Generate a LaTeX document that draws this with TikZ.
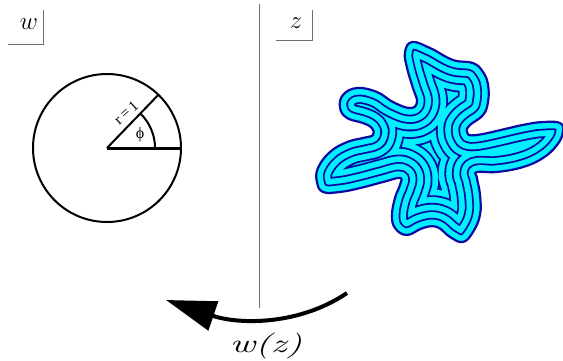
\documentclass[tikz,border=0pt]{standalone}
\usepackage{fontspec}
\newfontfamily\timesf{Liberation Serif}
\usetikzlibrary{arrows.meta,calc}
\definecolor{blobfill}{RGB}{0,240,255}
\definecolor{blobline}{RGB}{10,10,160}
\definecolor{rulegray}{RGB}{110,110,110}
\newcommand\blobpts{99.2/112.4, 90/105, 76.1/95.8, 64.5/99.7, 56.8/96.8, 49.5/89.4, 41.3/77.2, 35.6/65.2, 35/48.8, 29.6/42.5, 21/50.3, 16.8/97.1, 15.3/117.2, 13/133.4, 9/134.6, 3.6/127.3, -2.5/113.1, -8.6/94, -15.8/69.6, -22/50.7, -28/53.2, -40/65.3, -51.1/79.6, -61.4/89.9, -69.7/94.9, -76.6/86.3, -84.6/74.3, -95.3/75.3, -105.7/85.2, -115/82.8, -121.5/72.7, -127.9/57, -133.2/43.9, -140.2/39, -148.3/55.2, -153.4/78.3, -156.6/98.1, -160/113.9, -165.6/116.7, -172.4/113, -180.6/100, -187.5/83.7, -192.6/68.7, -197.5/59.8, -203.3/63.2, -204.1/73.4, -202.9/90.1, -206.6/100.6, -213.7/104.6, -221.7/97.7, -229/80.8, -234/63, -246/49.2, -255.7/52.6, -255.3/67.2, -254.9/88.1, -256.1/104}
\newcommand\buildblob{%
  \gdef\blobpath{}%
  \foreach \a/\r in \blobpts {%
    \xdef\blobpath{\blobpath (\a:\r)}%
  }%
}
\tikzset{
  rulebox/.style={draw=rulegray, line width=1pt},
  contour/.style={draw=blobline, line width=2.2pt, line join=round},
  bigvar/.style={font=\fontsize{30}{30}\selectfont, inner sep=0pt},
}
\begin{document}
\begin{tikzpicture}[x=1pt,y=-1pt]
\useasboundingbox[fill=white] (0,0) rectangle (563,360);
% divider
\coordinate (d1) at (259,4);
\coordinate (d2) at (259,308);
\draw[rulebox] (d1) -- (d2);
% label boxes
\node[bigvar] (lw) at (29,24) {$w$};
\coordinate (w1) at (43,10);
\coordinate (w2) at (43,44);
\coordinate (w3) at (8,44);
\draw[rulebox] (w1) -- (w2) -- (w3);
\node[bigvar] (lz) at (296,23) {$z$};
\coordinate (z1) at (312,10);
\coordinate (z2) at (312,40);
\coordinate (z3) at (276,40);
\draw[rulebox] (z1) -- (z2) -- (z3);
% unit circle
\begin{scope}[shift={(107,148)}, yscale=-1]
  \coordinate (o) at (0,0);
  \draw[line width=2pt] (o) circle[radius=74];
  \coordinate (rr) at (46:74);
  \coordinate (rx) at (0:74);
  \draw[line width=2pt] (o) -- (rr);
  \draw[line width=3pt] (o) -- (rx);
  \draw[line width=2pt] (48,0) arc[start angle=0, end angle=46, radius=48];
  \node[font=\timesf\fontsize{15}{15}\selectfont, rotate=42, inner sep=0pt] (rlab) at (19,35.5) {r\hspace{3pt}=\hspace{3pt}1};
  \node[font=\timesf\fontsize{16}{16}\selectfont, inner sep=0pt] (phi) at (33,13) {ϕ};
\end{scope}
% blob
\begin{scope}[shift={(430,153)}, yscale=-1]
  \buildblob
  \begin{scope}
    \clip plot[smooth cycle, tension=0.7] coordinates {\blobpath};
    \fill[blobfill] plot[smooth cycle, tension=0.7] coordinates {\blobpath};
    \foreach \d in {37.5, 30, 22.5, 15, 7.5} {
      \pgfmathsetmacro\lwa{2*\d+1.8}
      \pgfmathsetmacro\lwb{2*\d-1.8}
      \draw[blobline, line join=round, line width=\lwa pt] plot[smooth cycle, tension=0.7] coordinates {\blobpath};
      \draw[blobfill, line join=round, line width=\lwb pt] plot[smooth cycle, tension=0.7] coordinates {\blobpath};
    }
  \end{scope}
  \draw[contour] plot[smooth cycle, tension=0.7] coordinates {\blobpath};
\end{scope}
% mapping arrow
\coordinate (a1) at (347,293);
\coordinate (a2) at (166,300);
\draw[line width=4pt, -{Triangle[length=50pt,width=30pt]}] (a1) .. controls (300,325) and (240,325) .. (a2);
\node[font=\fontsize{26}{26}\selectfont\itshape, inner sep=0pt, xscale=1.5] (wz) at (266,346) {w(z)};
\end{tikzpicture}
\end{document}
